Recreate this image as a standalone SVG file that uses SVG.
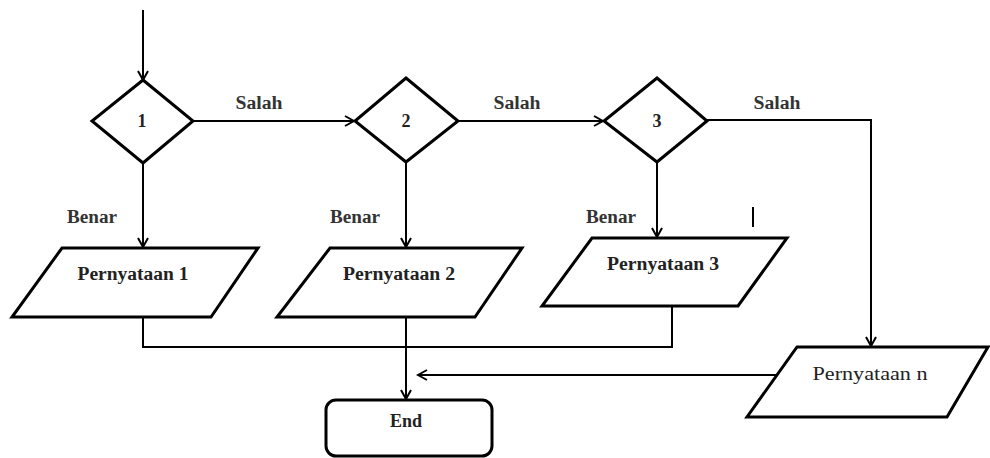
<svg xmlns="http://www.w3.org/2000/svg" width="990" height="458" viewBox="0 0 990 458">
<style>
.shape{fill:#fff;stroke:#000;stroke-width:3;stroke-linejoin:miter}
.conn{fill:none;stroke:#000;stroke-width:2}
.t{font-family:"Liberation Serif","Times New Roman",serif;font-weight:bold;font-size:18px;fill:#222;text-anchor:middle}
.lbl{font-family:"Liberation Serif","Times New Roman",serif;font-weight:bold;font-size:18px;fill:#333;text-anchor:middle}
</style>
<defs>
<marker id="arr" markerWidth="12" markerHeight="12" refX="10" refY="6" orient="auto" markerUnits="userSpaceOnUse">
<path d="M1,1 L10,6 L1,11" fill="none" stroke="#000" stroke-width="2"/>
</marker>
</defs>
<g id="connectors">
<line class="conn" x1="143" y1="10" x2="143" y2="80" marker-end="url(#arr)"/>
<line class="conn" x1="193" y1="121" x2="354" y2="121" marker-end="url(#arr)"/>
<line class="conn" x1="458" y1="121" x2="603" y2="121" marker-end="url(#arr)"/>
<polyline class="conn" points="707,120 871,120 871,346" marker-end="url(#arr)"/>
<line class="conn" x1="143" y1="163" x2="143" y2="247" marker-end="url(#arr)"/>
<line class="conn" x1="406" y1="162" x2="406" y2="247" marker-end="url(#arr)"/>
<line class="conn" x1="657" y1="162" x2="657" y2="237" marker-end="url(#arr)"/>
<polyline class="conn" points="143,317 143,347 672,347 672,306"/>
<line class="conn" x1="406" y1="317" x2="406" y2="399" marker-end="url(#arr)"/>
<line class="conn" x1="778" y1="375" x2="418" y2="375" marker-end="url(#arr)"/>
<text class="lbl" x="259" y="109" textLength="47" lengthAdjust="spacingAndGlyphs">Salah</text>
<text class="lbl" x="517" y="109" textLength="47" lengthAdjust="spacingAndGlyphs">Salah</text>
<text class="lbl" x="777" y="109" textLength="47" lengthAdjust="spacingAndGlyphs">Salah</text>
<text class="lbl" x="92" y="223" textLength="50" lengthAdjust="spacingAndGlyphs">Benar</text>
<text class="lbl" x="355" y="223" textLength="50" lengthAdjust="spacingAndGlyphs">Benar</text>
<text class="lbl" x="611" y="223" textLength="50" lengthAdjust="spacingAndGlyphs">Benar</text>
<line x1="753" y1="207" x2="753" y2="227" stroke="#000" stroke-width="2"/>
</g>
<g id="d1">
<polygon class="shape" points="143,80 193,121 143,163 92,121"/>
<text class="t" x="142" y="127">1</text>
</g>
<g id="d2">
<polygon class="shape" points="406,78 458,121 406,162 355,121"/>
<text class="t" x="406" y="127">2</text>
</g>
<g id="d3">
<polygon class="shape" points="657,78 707,121 657,162 604,121"/>
<text class="t" x="657" y="127">3</text>
</g>
<g id="p1">
<polygon class="shape" points="62,248 258,248 211,317 12,317"/>
<text class="t" x="133" y="280" textLength="111" lengthAdjust="spacingAndGlyphs">Pernyataan 1</text>
</g>
<g id="p2">
<polygon class="shape" points="330,248 522,248 475,317 277,317"/>
<text class="t" x="399" y="280" textLength="112" lengthAdjust="spacingAndGlyphs">Pernyataan 2</text>
</g>
<g id="p3">
<polygon class="shape" points="592,238 787,238 738,306 542,306"/>
<text class="t" x="663" y="270" textLength="112" lengthAdjust="spacingAndGlyphs">Pernyataan 3</text>
</g>
<g id="pn">
<polygon class="shape" points="797,347 988,347 947,417 747,417"/>
<text class="t" x="870" y="380" textLength="115" lengthAdjust="spacingAndGlyphs" style="font-weight:normal">Pernyataan n</text>
</g>
<g id="end">
<rect class="shape" x="326" y="400" width="166" height="56" rx="10" ry="10"/>
<text class="t" x="406" y="427">End</text>
</g>
</svg>
